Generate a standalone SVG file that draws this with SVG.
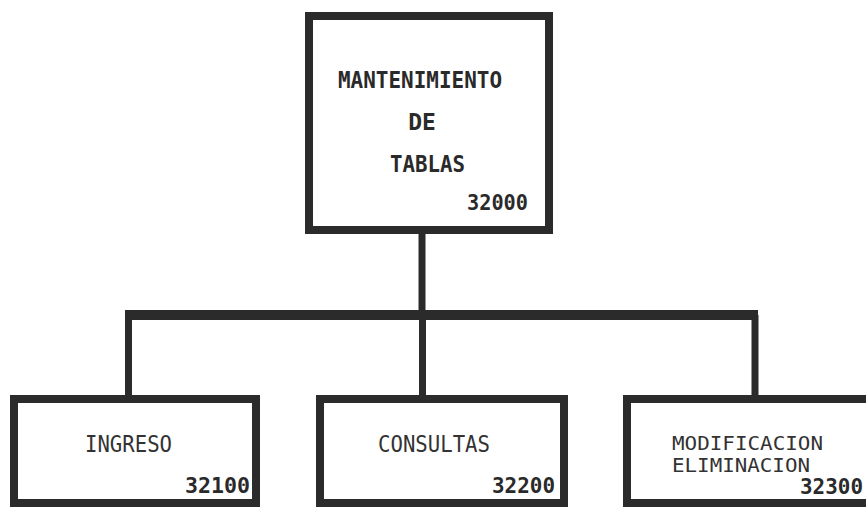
<svg xmlns="http://www.w3.org/2000/svg" width="866" height="507" viewBox="0 0 866 507">
<style>
.box{fill:#fff;stroke:#2b2b2b;stroke-width:8}
.con{stroke:#2b2b2b;fill:none}
.t{font-family:"DejaVu Sans Mono","Liberation Mono",monospace;font-size:23px;fill:#333}
.s{font-size:20px}
.b{font-weight:bold;fill:#2a2a2a}
.n{font-family:"DejaVu Sans Mono","Liberation Mono",monospace;font-size:21px;font-weight:bold;fill:#2a2a2a}
</style>
<rect width="866" height="507" fill="#fff"/>
<g id="connectors">
<line class="con" x1="422" y1="230" x2="422" y2="315" stroke-width="7"/>
<line class="con" x1="125" y1="315" x2="758" y2="315" stroke-width="10"/>
<line class="con" x1="128.5" y1="315" x2="128.5" y2="399" stroke-width="7"/>
<line class="con" x1="422.5" y1="315" x2="422.5" y2="399" stroke-width="7"/>
<line class="con" x1="755" y1="315" x2="755" y2="399" stroke-width="7"/>
</g>
<g id="n32000">
<rect class="box" x="309" y="16" width="240" height="214"/>
<text class="t b" x="338" y="88" textLength="164" lengthAdjust="spacingAndGlyphs">MANTENIMIENTO</text>
<text class="t b" x="422" y="130" text-anchor="middle">DE</text>
<text class="t b" x="390" y="172" textLength="75" lengthAdjust="spacingAndGlyphs">TABLAS</text>
<text class="n" x="467" y="210" textLength="61" lengthAdjust="spacingAndGlyphs">32000</text>
</g>
<g id="n32100">
<rect class="box" x="14" y="399" width="242" height="104"/>
<text class="t" x="85" y="452" textLength="87" lengthAdjust="spacingAndGlyphs">INGRESO</text>
<text class="n" x="185" y="493" textLength="65" lengthAdjust="spacingAndGlyphs">32100</text>
</g>
<g id="n32200">
<rect class="box" x="320" y="399" width="244" height="104"/>
<text class="t" x="378" y="452" textLength="112" lengthAdjust="spacingAndGlyphs">CONSULTAS</text>
<text class="n" x="492" y="493" textLength="63" lengthAdjust="spacingAndGlyphs">32200</text>
</g>
<g id="n32300">
<rect class="box" x="627" y="399" width="262" height="104"/>
<text class="t s" x="672" y="450" textLength="151" lengthAdjust="spacingAndGlyphs">MODIFICACION</text>
<text class="t s" x="672" y="472" textLength="138" lengthAdjust="spacingAndGlyphs">ELIMINACION</text>
<text class="n" x="800" y="494" textLength="63" lengthAdjust="spacingAndGlyphs">32300</text>
</g>
</svg>
